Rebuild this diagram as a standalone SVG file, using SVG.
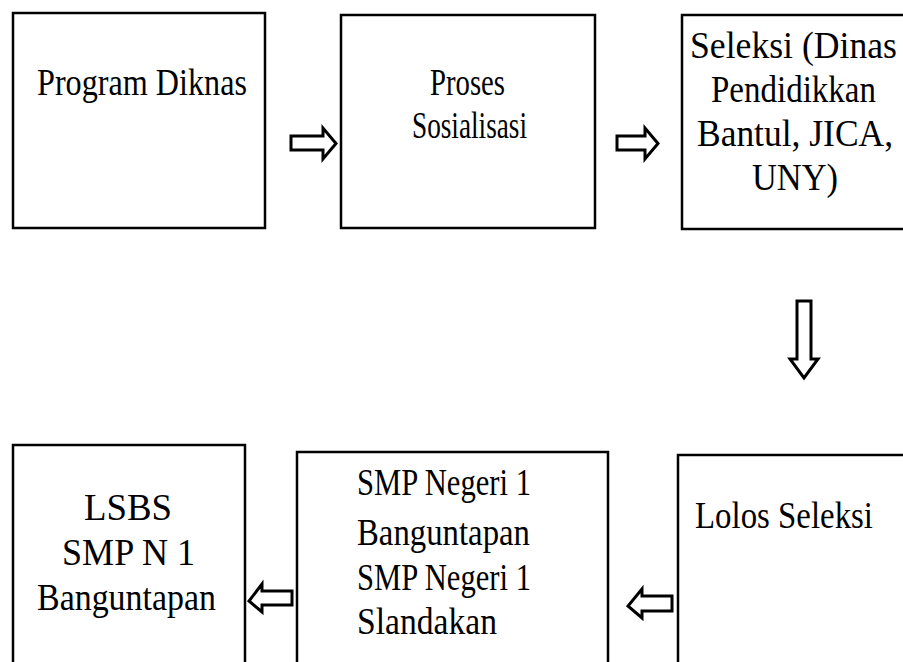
<svg xmlns="http://www.w3.org/2000/svg" width="903" height="662" viewBox="0 0 903 662">
<style>
.box{fill:#fff;stroke:#000;stroke-width:2.5}
.arr{fill:#fff;stroke:#000;stroke-width:3;stroke-linejoin:miter}
text{font-family:"Liberation Serif","Times New Roman",serif;font-size:37px;fill:#000}
</style>
<rect width="903" height="662" fill="#fff"/>
<g id="connectors">
<polygon class="arr" points="291,136 323,136 323,128 336,143.5 323,159 323,150 291,150"/>
<polygon class="arr" points="617,136 645,136 645,128 658,143.5 645,159 645,150 617,150"/>
<polygon class="arr" points="797,301 811,301 811,359 818,359 804,378 790,359 797,359"/>
<polygon class="arr" points="292,591 262,591 262,584 249,601 262,612 262,605 292,605"/>
<polygon class="arr" points="672,596 642,596 642,589 628,606 642,618 642,611 672,611"/>
</g>
<g id="n1"><rect class="box" x="13" y="13" width="252" height="215"/>
<text x="37" y="95" textLength="210" lengthAdjust="spacingAndGlyphs">Program Diknas</text></g>
<g id="n2"><rect class="box" x="341" y="15" width="254" height="213"/>
<text x="430" y="95" textLength="75" lengthAdjust="spacingAndGlyphs">Proses</text>
<text x="412" y="138" textLength="115" lengthAdjust="spacingAndGlyphs">Sosialisasi</text></g>
<g id="n3"><rect class="box" x="682" y="15" width="230" height="214"/>
<text x="690" y="58" textLength="207" lengthAdjust="spacingAndGlyphs">Seleksi (Dinas</text>
<text x="711" y="102" textLength="165" lengthAdjust="spacingAndGlyphs">Pendidikkan</text>
<text x="697" y="146" textLength="196" lengthAdjust="spacingAndGlyphs">Bantul, JICA,</text>
<text x="752" y="190" textLength="86" lengthAdjust="spacingAndGlyphs">UNY)</text></g>
<g id="n4"><rect class="box" x="13" y="445" width="232" height="230"/>
<text x="84" y="520" textLength="88" lengthAdjust="spacingAndGlyphs">LSBS</text>
<text x="62" y="565" textLength="133" lengthAdjust="spacingAndGlyphs">SMP N 1</text>
<text x="37" y="610" textLength="179" lengthAdjust="spacingAndGlyphs">Banguntapan</text></g>
<g id="n5"><rect class="box" x="297" y="452" width="311" height="230"/>
<text x="357" y="495" textLength="174" lengthAdjust="spacingAndGlyphs">SMP Negeri 1</text>
<text x="357" y="545" textLength="173" lengthAdjust="spacingAndGlyphs">Banguntapan</text>
<text x="357" y="590" textLength="174" lengthAdjust="spacingAndGlyphs">SMP Negeri 1</text>
<text x="357" y="634" textLength="140" lengthAdjust="spacingAndGlyphs">Slandakan</text></g>
<g id="n6"><rect class="box" x="678" y="455" width="240" height="230"/>
<text x="695" y="528" textLength="178" lengthAdjust="spacingAndGlyphs">Lolos Seleksi</text></g>
</svg>
